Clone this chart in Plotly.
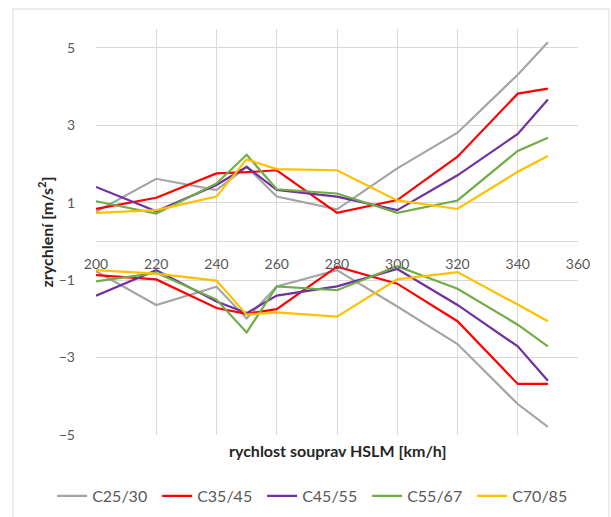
import plotly.graph_objects as go

# Train speed [km/h]
speeds = [200, 220, 240, 250, 260, 280, 300, 320, 340, 350]

# Envelope of deck acceleration [m/s^2] for each concrete class
series_names = ["C25/30", "C35/45", "C45/55", "C55/67", "C70/85"]
series_colors = ["#A5A5A5", "#FF0000", "#7030A0", "#70AD47", "#FFC000"]

max_c25 = [0.77, 1.62, 1.33, 1.93, 1.16, 0.83, 1.89, 2.81, 4.31, 5.15]
max_c35 = [0.84, 1.13, 1.76, 1.79, 1.84, 0.74, 1.07, 2.19, 3.82, 3.95]
max_c45 = [1.41, 0.78, 1.46, 1.93, 1.33, 1.16, 0.81, 1.71, 2.78, 3.67]
max_c55 = [1.04, 0.72, 1.50, 2.24, 1.35, 1.24, 0.74, 1.06, 2.34, 2.68]
max_c70 = [0.74, 0.81, 1.16, 2.12, 1.87, 1.84, 1.06, 0.84, 1.80, 2.21]

min_c25 = [-0.77, -1.64, -1.17, -1.99, -1.16, -0.74, -1.68, -2.65, -4.20, -4.79]
min_c35 = [-0.87, -0.98, -1.72, -1.87, -1.75, -0.65, -1.09, -2.06, -3.68, -3.68]
min_c45 = [-1.40, -0.74, -1.55, -1.85, -1.40, -1.16, -0.71, -1.64, -2.71, -3.60]
min_c55 = [-1.03, -0.81, -1.50, -2.35, -1.16, -1.26, -0.64, -1.22, -2.15, -2.71]
min_c70 = [-0.74, -0.83, -1.01, -1.89, -1.83, -1.94, -0.98, -0.79, -1.63, -2.06]

x_ticks = [200, 220, 240, 260, 280, 300, 320, 340, 360]
y_ticks = [-5, -3, -1, 1, 3, 5]

max_values = [max_c25, max_c35, max_c45, max_c55, max_c70]
min_values = [min_c25, min_c35, min_c45, min_c55, min_c70]

Y_MIN, Y_MAX = -5, 5.49
FONT = "Lato, 'Open Sans', sans-serif"

fig = go.Figure()
for name, color, ymax, ymin in zip(series_names, series_colors, max_values, min_values):
    fig.add_trace(go.Scatter(
        x=speeds, y=ymax, mode="lines", name=name, legendgroup=name,
        line=dict(color=color, width=2.2),
    ))
    fig.add_trace(go.Scatter(
        x=speeds, y=ymin, mode="lines", name=name, legendgroup=name,
        showlegend=False, line=dict(color=color, width=2.2),
    ))

zero_pos = (0 - Y_MIN) / (Y_MAX - Y_MIN)

fig.update_layout(
    width=611, height=517,
    margin=dict(l=96, r=33, t=29, b=82, autoexpand=False),
    paper_bgcolor="white", plot_bgcolor="white",
    font=dict(family=FONT, size=13, color="#595959"),
    xaxis=dict(
        range=[200, 360], tickvals=x_ticks,
        showgrid=True, gridcolor="#D9D9D9", gridwidth=1,
        zeroline=False, showline=True, linecolor="#D9D9D9", linewidth=1,
        anchor="free", position=zero_pos,
        ticks="", ticklabelstandoff=10,
        tickfont=dict(size=14, color="#595959"),
    ),
    yaxis=dict(
        range=[Y_MIN, Y_MAX], tickvals=y_ticks,
        showgrid=True, gridcolor="#D9D9D9", gridwidth=1,
        zeroline=False, showline=False,
        ticks="", ticklabelstandoff=20,
        tickfont=dict(size=14, color="#595959"),
        title=dict(text="zrychlení [m/s<sup>2</sup>]",
                   font=dict(size=16, color="#262626", family=FONT, weight="bold"),
                   standoff=1),
    ),
    legend=dict(
        orientation="h", x=-0.091, xanchor="left", y=-0.150, yanchor="middle",
        font=dict(size=16, color="#595959"), itemwidth=30, tracegroupgap=0,
        entrywidth=60,
    ),
    showlegend=True,
)

fig.add_annotation(
    text="<b>rychlost souprav HSLM [km/h]</b>", xref="paper", yref="paper",
    x=0.5, y=-0.037, xanchor="center", yanchor="middle", showarrow=False,
    font=dict(size=16, color="#262626", family=FONT),
)

# Chart-area border
fig.add_shape(
    type="rect", xref="paper", yref="paper",
    x0=(13 - 96) / 482, x1=(609 - 96) / 482,
    y0=-0.25, y1=(435 - 9) / 406,
    line=dict(color="#D9D9D9", width=1), fillcolor="rgba(0,0,0,0)", layer="below",
)

fig.write_html("out.html")
